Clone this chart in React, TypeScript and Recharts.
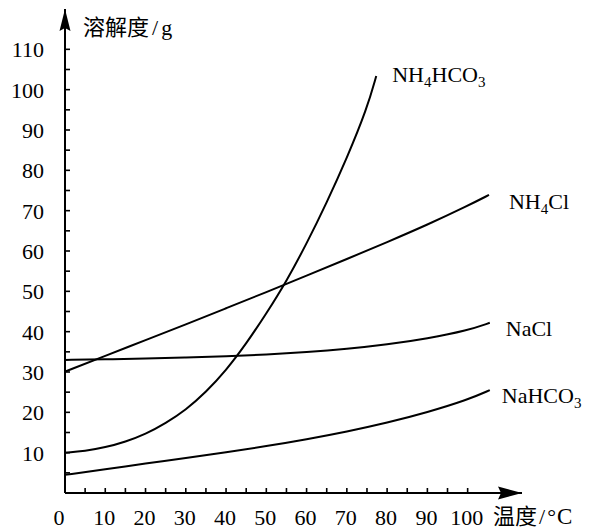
import React from 'react';
import { LineChart, Line, XAxis, YAxis, ReferenceDot } from 'recharts';

const SERIF = '"Liberation Serif", "Times New Roman", serif';
const CJK = '"Noto Sans CJK SC", "Noto Sans CJK JP", sans-serif';

// Axis ticks
const xTickValues = [0, 5, 10, 15, 20, 25, 30, 35, 40, 45, 50, 55, 60, 65, 70, 75, 80, 85, 90, 95, 100];
const yTickValues = [5, 10, 15, 20, 25, 30, 35, 40, 45, 50, 55, 60, 65, 70, 75, 80, 85, 90, 95, 100, 105, 110];

// Series (temperature °C, solubility g)
const tempNH4HCO3 = [0, 5, 10, 15, 20, 25, 30, 35, 40, 45, 50, 55, 60, 65, 70, 75, 77.3];
const solNH4HCO3 = [10, 10.4, 11.3, 12.7, 14.6, 17.3, 20.6, 25.0, 30.4, 37.0, 44.5, 52.5, 61.8, 72, 83, 95.3, 103.4];

const tempNH4Cl = [0, 10, 20, 30, 40, 50, 60, 70, 80, 90, 100, 105.3];
const solNH4Cl = [30.1, 34, 37.9, 41.8, 45.8, 49.8, 53.9, 58, 62.2, 66.5, 71.2, 73.9];

const tempNaCl = [0, 10, 20, 30, 40, 50, 60, 70, 80, 90, 100, 105.5];
const solNaCl = [33, 33.15, 33.35, 33.6, 33.9, 34.3, 34.9, 35.7, 36.8, 38.3, 40.3, 42.2];

const tempNaHCO3 = [0, 10, 20, 30, 40, 50, 60, 70, 80, 90, 100, 105.5];
const solNaHCO3 = [4.5, 5.9, 7.3, 8.7, 10.1, 11.6, 13.3, 15.2, 17.4, 20.0, 23.1, 25.5];

const toPoints = (t: number[], s: number[]) => t.map((v, i) => ({ t: v, s: s[i] }));

const series = [
  { name: 'NH4HCO3', main: ['NH', 'HCO'], subs: ['4', '3'], data: toPoints(tempNH4HCO3, solNH4HCO3), dx: 16, dy: 6 },
  { name: 'NH4Cl', main: ['NH', 'Cl'], subs: ['4', ''], data: toPoints(tempNH4Cl, solNH4Cl), dx: 20, dy: 14 },
  { name: 'NaCl', main: ['NaCl'], subs: [''], data: toPoints(tempNaCl, solNaCl), dx: 16, dy: 13 },
  { name: 'NaHCO3', main: ['NaHCO'], subs: ['3'], data: toPoints(tempNaHCO3, solNaHCO3), dx: 12, dy: 13 },
];

const XTick = (props: any) => {
  const { x, y, payload } = props;
  const v = payload.value;
  return (
    <g>
      {v > 0 && <line x1={x} y1={y} x2={x} y2={y - 5} stroke="#000" strokeWidth={1.6} />}
      {v % 10 === 0 && (
        <text x={v === 0 ? x - 6 : x - 1} y={y + 32} textAnchor="middle" fontFamily={SERIF} fontSize={22} fill="#000">
          {v}
        </text>
      )}
    </g>
  );
};

const YTick = (props: any) => {
  const { x, y, payload } = props;
  const v = payload.value;
  return (
    <g>
      <line x1={x} y1={y} x2={x + 5} y2={y} stroke="#000" strokeWidth={1.6} />
      {v % 10 === 0 && (
        <text x={x - 21} y={y + 8} textAnchor="end" fontFamily={SERIF} fontSize={22} fill="#000">
          {v}
        </text>
      )}
    </g>
  );
};

const makeLabel = (s: any) => (props: any) => {
  const { x, y, index } = props;
  if (index !== s.data.length - 1) return null;
  const parts: any[] = [];
  s.main.forEach((m: string, i: number) => {
    const back = i > 0 && s.subs[i - 1] ? -5 : undefined;
    parts.push(<tspan key={'m' + i} dy={back}>{m}</tspan>);
    if (s.subs[i]) {
      parts.push(
        <tspan key={'s' + i} fontSize={15} dy={5}>
          {s.subs[i]}
        </tspan>
      );
    }
  });
  return (
    <text x={x + s.dx} y={y + s.dy} fontFamily={SERIF} fontSize={22} fill="#000">
      {parts}
    </text>
  );
};

const XArrow = (props: any) => {
  const { cx, cy } = props;
  return (
    <g>
      <polygon points={`${cx},${cy} ${cx - 24},${cy - 6.5} ${cx - 21},${cy} ${cx - 24},${cy + 6.5}`} fill="#000" />
      <text x={cx - 29} y={cy + 31} fontSize={22} fill="#000">
        <tspan fontFamily={CJK}>温度</tspan>
        <tspan fontFamily={SERIF} dx={2}>/</tspan>
        <tspan fontFamily={SERIF} dx={2}>°</tspan>
        <tspan fontFamily={SERIF} fontSize={23} dx={1}>C</tspan>
      </text>
    </g>
  );
};

const YArrow = (props: any) => {
  const { cx, cy } = props;
  return (
    <g>
      <polygon points={`${cx},${cy} ${cx + 5.5},${cy + 22} ${cx},${cy + 19} ${cx - 5.5},${cy + 22}`} fill="#000" />
      <text x={cx + 18} y={cy + 26} fontSize={22} fill="#000">
        <tspan fontFamily={CJK}>溶解度</tspan>
        <tspan fontFamily={SERIF} dx={3}>/</tspan>
        <tspan fontFamily={SERIF} dx={3}>g</tspan>
      </text>
    </g>
  );
};

export default function App() {
  return (
    <div style={{ position: 'absolute', left: 0, top: 0, background: '#fff' }}>
      <LineChart width={591} height={529} margin={{ top: 9, right: 69, left: 0, bottom: 0 }}>
        <XAxis
          type="number"
          dataKey="t"
          domain={[0, 113.5]}
          ticks={xTickValues}
          interval={0}
          height={36}
          allowDataOverflow
          axisLine={{ stroke: '#000', strokeWidth: 2 }}
          tickLine={false}
          tickSize={0}
          tickMargin={0}
          tick={XTick}
        />
        <YAxis
          type="number"
          dataKey="s"
          domain={[0, 120]}
          ticks={yTickValues}
          interval={0}
          width={65}
          allowDataOverflow
          axisLine={{ stroke: '#000', strokeWidth: 2 }}
          tickLine={false}
          tickSize={0}
          tickMargin={0}
          tick={YTick}
        />
        {series.map((s) => (
          <Line
            key={s.name}
            data={s.data}
            dataKey="s"
            type="basis"
            stroke="#000"
            strokeWidth={2}
            dot={false}
            activeDot={false}
            isAnimationActive={false}
            label={makeLabel(s)}
          />
        ))}
        <ReferenceDot x={113.5} y={0} ifOverflow="visible" shape={XArrow} />
        <ReferenceDot x={0} y={120} ifOverflow="visible" shape={YArrow} />
      </LineChart>
    </div>
  );
}
